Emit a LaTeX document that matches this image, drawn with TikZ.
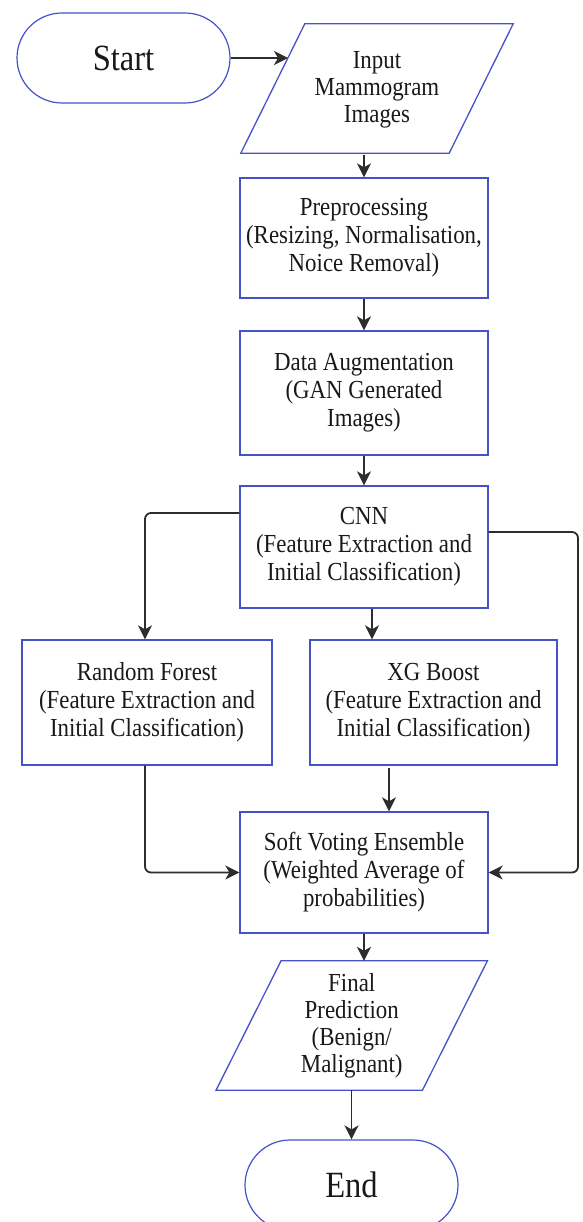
\documentclass[tikz,border=0pt]{standalone}
\usepackage{fontspec}
\setmainfont[FakeStretch=0.88]{Liberation Serif}
\usetikzlibrary{arrows.meta}
\definecolor{bordblue}{RGB}{70,82,200}
\definecolor{arrgray}{RGB}{45,45,45}
\definecolor{txtcol}{RGB}{25,25,25}
\begin{document}
\begin{tikzpicture}[x=1pt,y=-1pt,
  box/.style={draw=bordblue,line width=1.3pt,rectangle,align=center,inner sep=0pt,text=txtcol,
    font=\fontsize{26}{28}\selectfont},
  term/.style={draw=bordblue,line width=1.2pt,rectangle,rounded corners=45pt,inner sep=0pt,text=txtcol,
    minimum width=213pt,minimum height=90pt,font=\fontsize{37}{40}\selectfont},
  iotext/.style={rectangle,inner sep=0pt,align=center,text=txtcol,font=\fontsize{26}{27}\selectfont},
  para/.style={draw=bordblue,line width=1.3pt,line join=miter},
  arr/.style={draw=arrgray,line width=1.8pt,-{Stealth[length=14pt,width=14pt,inset=4pt]}},
  link/.style={arr,rounded corners=6pt}]
\useasboundingbox (0,0) rectangle (582,1222);
% nodes
\node[term] (start) at (123.5,58) {Start};
\node[iotext,minimum width=208pt,minimum height=129pt] (inp) at (377,90) {Input\\Mammogram\\Images};
\draw[para] ([xshift=32pt,yshift=1.5pt]inp.north west) -- ([xshift=32pt,yshift=1.5pt]inp.north east) -- ([xshift=-32pt,yshift=1.5pt]inp.south east) -- ([xshift=-32pt,yshift=1.5pt]inp.south west) -- cycle;
\coordinate (inL) at (288,58);
\node[box,minimum width=248pt,minimum height=120pt] (pre) at (364,238) {Preprocessing\\(Resizing, Normalisation,\\Noice Removal)};
\node[box,minimum width=248pt,minimum height=124pt] (da) at (364,393) {Data Augmentation\\(GAN Generated\\Images)};
\node[box,minimum width=248pt,minimum height=122pt] (cnn) at (364,547) {CNN\\(Feature Extraction and\\Initial Classification)};
\node[box,minimum width=250pt,minimum height=125pt] (rf) at (147,702.5) {Random Forest\\(Feature Extraction and\\Initial Classification)};
\node[box,minimum width=247pt,minimum height=125pt] (xg) at (433.5,702.5) {XG Boost\\(Feature Extraction and\\Initial Classification)};
\node[box,minimum width=248pt,minimum height=121pt] (sv) at (364,872.5) {Soft Voting Ensemble\\(Weighted Average of\\probabilities)};
\node[iotext,minimum width=206pt,minimum height=129pt] (fin) at (351.75,1025.5) {Final\\Prediction\\(Benign/\\Malignant)};
\draw[para] ([xshift=32.5pt]fin.north west) -- ([xshift=32.5pt]fin.north east) -- ([xshift=-32.5pt]fin.south east) -- ([xshift=-32.5pt]fin.south west) -- cycle;
\node[term] (end) at (351.5,1185) {End};
\coordinate (rr) at (578,0);
\coordinate (xgs) at (389,768);
% connectors
\draw[arr] (start.east) -- (inL);
\draw[arr] (pre.north |- inp.south) -- (pre.north);
\draw[arr] (pre.south) -- (da.north);
\draw[arr] (da.south) -- (cnn.north);
\draw[link] ([yshift=34pt]cnn.west) -| ([xshift=-2pt]rf.north);
\draw[arr] ([xshift=8pt]cnn.south) -- ([xshift=8pt]cnn.south |- xg.north);
\draw[link] ([yshift=15pt]cnn.east) -- ([yshift=15pt]cnn.east -| rr) -- (rr |- sv.east) -- (sv.east);
\draw[link] ([xshift=-2pt]rf.south) |- (sv.west);
\draw[arr] (xgs) -- (xgs |- sv.north);
\draw[arr] (sv.south) -- (sv.south |- fin.north);
\draw[arr] (end.north |- fin.south) -- (end.north);
\end{tikzpicture}
\end{document}
